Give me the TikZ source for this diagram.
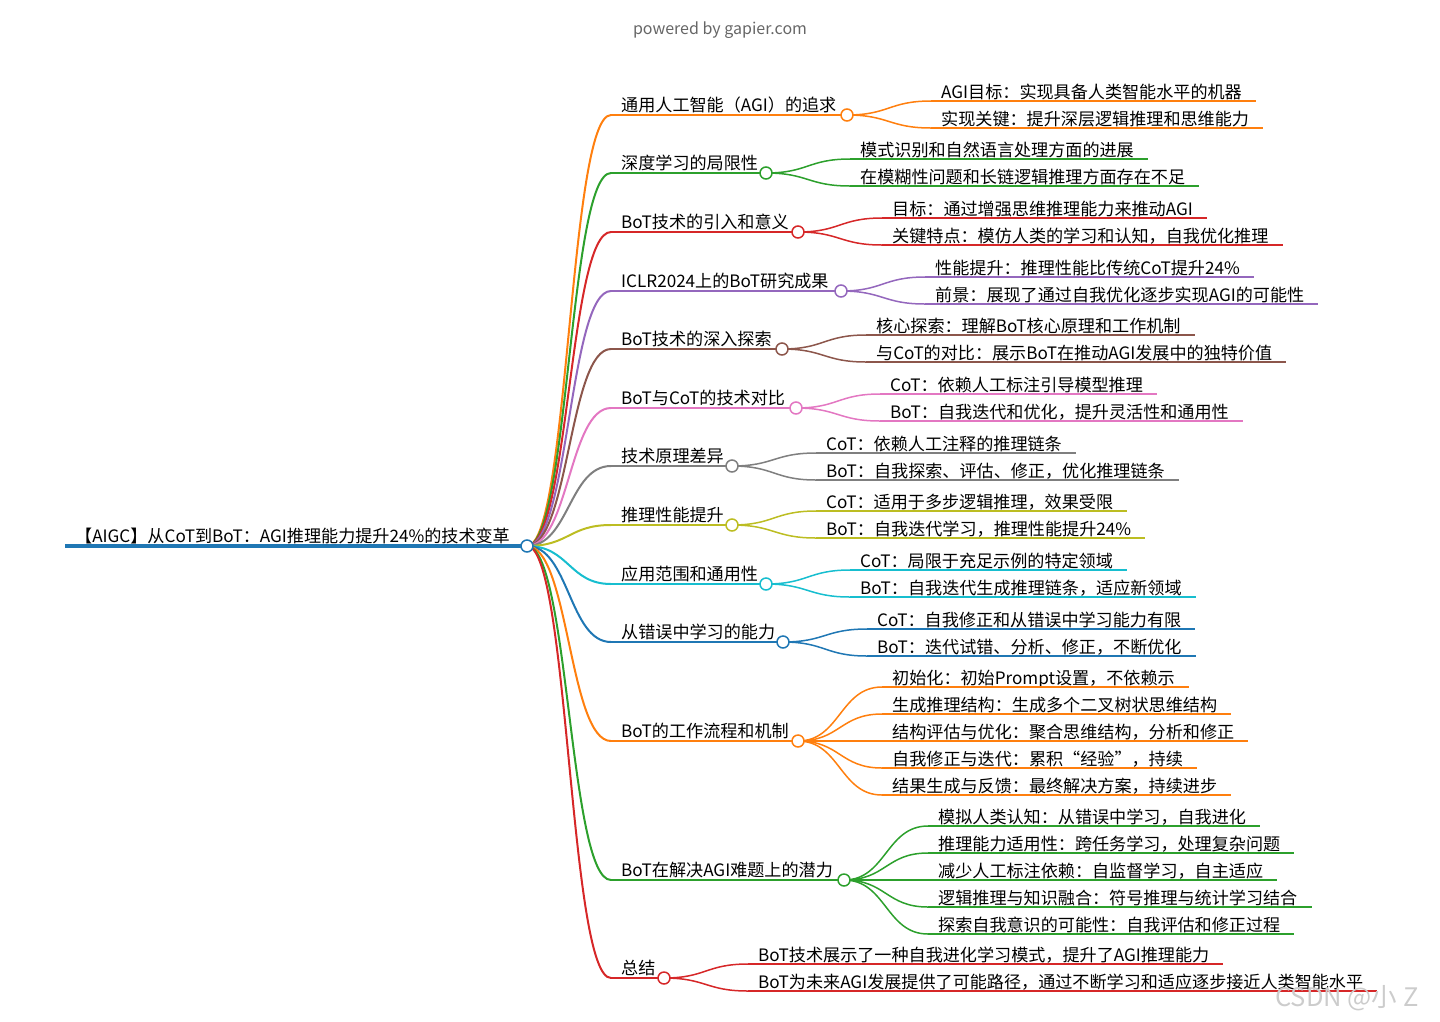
\documentclass[tikz,border=0pt]{standalone}
\usepackage{fontspec}
\setmainfont{Noto Sans CJK SC}
\usetikzlibrary{calc}
\definecolor{c0}{HTML}{1F77B4}
\definecolor{c1}{HTML}{FF7F0E}
\definecolor{c2}{HTML}{2CA02C}
\definecolor{c3}{HTML}{D62728}
\definecolor{c4}{HTML}{9467BD}
\definecolor{c5}{HTML}{8C564B}
\definecolor{c6}{HTML}{E377C2}
\definecolor{c7}{HTML}{7F7F7F}
\definecolor{c8}{HTML}{BCBD22}
\definecolor{c9}{HTML}{17BECF}
% curved link from a circle centre to a line start
\newcommand\mmlink[4]{%
  \draw[#1, line width=#2] let \p1=(#3), \p2=(#4) in
    (\p1) .. controls ({0.5*\x1+0.5*\x2},\y1) and ({0.5*\x1+0.5*\x2},\y2) .. (\p2);}
% first level: id, colour, y, circle x, text
\newcommand\lone[5]{%
  \coordinate (#1s) at (611,#3);
  \coordinate (#1c) at (#4,#3);
  \node[lbl] (#1t) at (621,#3-3.5) {#5};
  \draw[#2, line width=2pt] (#1s) -- ([xshift=-6pt]#1c);
  \mmlink{#2}{2pt}{rc}{#1s}}
% second level: id, colour, parent, start x, y, text
\newcommand\ltwo[6]{%
  \coordinate (#1s) at (#4,#5);
  \node[lbl] (#1t) at (#4+10,#5-3) {#6};
  \draw[#2, line width=1.5pt] (#1s) -- ($(#1t.east |- #1s)+(14,0)$);
  \mmlink{#2}{1.5pt}{#3c}{#1s}}
\newcommand\ldot[2]{\node[dot, draw=#2] (#1d) at (#1c) {};}
\begin{document}
\begin{tikzpicture}[x=1pt,y=-1pt,
  lbl/.style={anchor=base west, inner sep=0pt, font=\fontsize{17.1}{20}\selectfont},
  dot/.style={circle, fill=white, minimum size=12pt, inner sep=0pt, line width=1.5pt}]
\useasboundingbox (0,0) rectangle (1440,1021);
\node[inner sep=0pt, text=black!60, font=\fontsize{16}{18}\selectfont] (pw) at (720,30) {powered by gapier.com};
% root
\coordinate (rs) at (65,546);
\coordinate (rc) at (527,546);
\node[lbl] (rt) at (75,542.5) {【AIGC】从CoT到BoT：AGI推理能力提升24\%的技术变革};
\draw[c0, line width=4pt] (rs) -- ([xshift=-6pt]rc);
% level 1
\lone{a}{c1}{115}{847}{通用人工智能（AGI）的追求}
\lone{b}{c2}{173}{766}{深度学习的局限性}
\lone{c}{c3}{232}{798}{BoT技术的引入和意义}
\lone{d}{c4}{291}{841}{ICLR2024上的BoT研究成果}
\lone{e}{c5}{349}{782}{BoT技术的深入探索}
\lone{f}{c6}{408}{796}{BoT与CoT的技术对比}
\lone{g}{c7}{466}{732}{技术原理差异}
\lone{h}{c8}{525}{732}{推理性能提升}
\lone{i}{c9}{584}{766}{应用范围和通用性}
\lone{j}{c0}{642}{783}{从错误中学习的能力}
\lone{k}{c1}{741}{798}{BoT的工作流程和机制}
\lone{l}{c2}{880}{844}{BoT在解决AGI难题上的潜力}
\lone{m}{c3}{978}{664}{总结}
% level 2
\ltwo{a1}{c1}{a}{931}{101}{AGI目标：实现具备人类智能水平的机器}
\ltwo{a2}{c1}{a}{931}{128}{实现关键：提升深层逻辑推理和思维能力}
\ltwo{b1}{c2}{b}{850}{159}{模式识别和自然语言处理方面的进展}
\ltwo{b2}{c2}{b}{850}{186}{在模糊性问题和长链逻辑推理方面存在不足}
\ltwo{c1}{c3}{c}{882}{218}{目标：通过增强思维推理能力来推动AGI}
\ltwo{c2}{c3}{c}{882}{245}{关键特点：模仿人类的学习和认知，自我优化推理}
\ltwo{d1}{c4}{d}{925}{277}{性能提升：推理性能比传统CoT提升24\%}
\ltwo{d2}{c4}{d}{925}{304}{前景：展现了通过自我优化逐步实现AGI的可能性}
\ltwo{e1}{c5}{e}{866}{335}{核心探索：理解BoT核心原理和工作机制}
\ltwo{e2}{c5}{e}{866}{362}{与CoT的对比：展示BoT在推动AGI发展中的独特价值}
\ltwo{f1}{c6}{f}{880}{394}{CoT：依赖人工标注引导模型推理}
\ltwo{f2}{c6}{f}{880}{421}{BoT：自我迭代和优化，提升灵活性和通用性}
\ltwo{g1}{c7}{g}{816}{453}{CoT：依赖人工注释的推理链条}
\ltwo{g2}{c7}{g}{816}{480}{BoT：自我探索、评估、修正，优化推理链条}
\ltwo{h1}{c8}{h}{816}{511}{CoT：适用于多步逻辑推理，效果受限}
\ltwo{h2}{c8}{h}{816}{538}{BoT：自我迭代学习，推理性能提升24\%}
\ltwo{i1}{c9}{i}{850}{570}{CoT：局限于充足示例的特定领域}
\ltwo{i2}{c9}{i}{850}{597}{BoT：自我迭代生成推理链条，适应新领域}
\ltwo{j1}{c0}{j}{867}{629}{CoT：自我修正和从错误中学习能力有限}
\ltwo{j2}{c0}{j}{867}{656}{BoT：迭代试错、分析、修正，不断优化}
\ltwo{k1}{c1}{k}{882}{687}{初始化：初始Prompt设置，不依赖示}
\ltwo{k2}{c1}{k}{882}{714}{生成推理结构：生成多个二叉树状思维结构}
\ltwo{k3}{c1}{k}{882}{741}{结构评估与优化：聚合思维结构，分析和修正}
\ltwo{k4}{c1}{k}{882}{768}{自我修正与迭代：累积“经验”，持续}
\ltwo{k5}{c1}{k}{882}{795}{结果生成与反馈：最终解决方案，持续进步}
\ltwo{l1}{c2}{l}{928}{826}{模拟人类认知：从错误中学习，自我进化}
\ltwo{l2}{c2}{l}{928}{853}{推理能力适用性：跨任务学习，处理复杂问题}
\ltwo{l3}{c2}{l}{928}{880}{减少人工标注依赖：自监督学习，自主适应}
\ltwo{l4}{c2}{l}{928}{907}{逻辑推理与知识融合：符号推理与统计学习结合}
\ltwo{l5}{c2}{l}{928}{934}{探索自我意识的可能性：自我评估和修正过程}
\ltwo{m1}{c3}{m}{748}{964}{BoT技术展示了一种自我进化学习模式，提升了AGI推理能力}
\ltwo{m2}{c3}{m}{748}{991}{BoT为未来AGI发展提供了可能路径，通过不断学习和适应逐步接近人类智能水平}
% circles on top
\node[dot, draw=c0] (rd) at (rc) {};
\ldot{a}{c1}\ldot{b}{c2}\ldot{c}{c3}\ldot{d}{c4}\ldot{e}{c5}\ldot{f}{c6}\ldot{g}{c7}
\ldot{h}{c8}\ldot{i}{c9}\ldot{j}{c0}\ldot{k}{c1}\ldot{l}{c2}\ldot{m}{c3}
% watermark
\node[anchor=base west, inner sep=0pt, text=black!20, font=\fontsize{25.5}{28}\selectfont] (wm) at (1275,1006) {CSDN @小 Z};
\end{tikzpicture}
\end{document}
